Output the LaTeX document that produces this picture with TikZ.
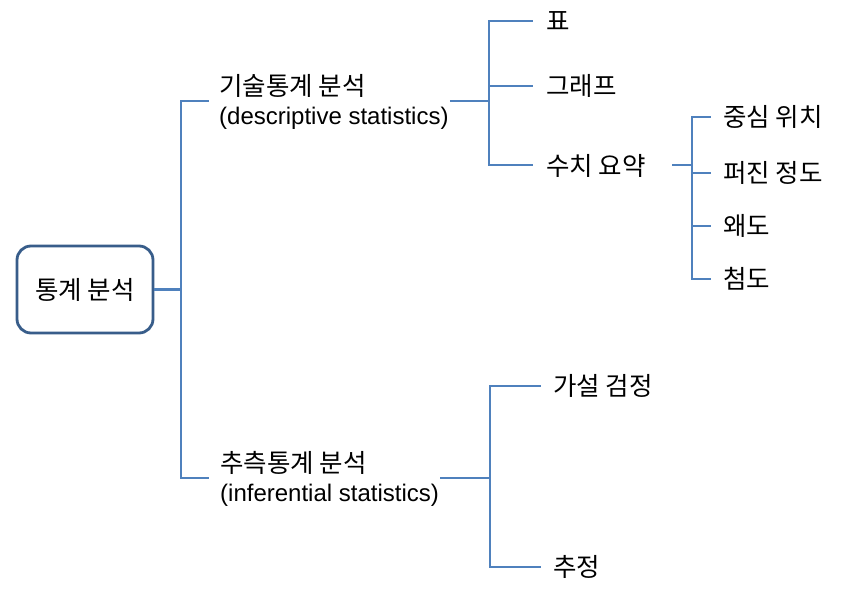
\documentclass[tikz,border=0pt]{standalone}
\usepackage{fontspec}
\setmainfont{Liberation Sans}
\newfontfamily\kr{Noto Sans CJK KR}
\definecolor{connc}{HTML}{4F81BD}
\definecolor{boxb}{HTML}{385D8A}
\begin{document}
\begin{tikzpicture}[x=1pt,y=-1pt,
 conn/.style={draw=connc,line width=2.5pt},
 lbl/.style={anchor=west,inner sep=0pt,font=\fontsize{25.5}{27}\selectfont\kr},
 two/.style={anchor=west,inner sep=0pt,align=left,font=\fontsize{24}{29}\selectfont}]
\fill[white] (0,0) rectangle (865,599);
\useasboundingbox (0,0) rectangle (865,599);
% root
\node[draw=boxb,line width=2.8pt,rounded corners=14pt,minimum width=136pt,minimum height=87pt,inner sep=0pt,font=\fontsize{25.5}{27}\selectfont\kr] (root) at (85,289.5) {통계 분석};
% level 1
\node[two] (desc) at (219,102) {{\fontsize{25.5}{29}\selectfont\kr 기술통계 분석}\\(descriptive statistics)};
\node[two] (inf) at (220,479) {{\fontsize{25.5}{29}\selectfont\kr 추측통계 분석}\\(inferential statistics)};
% level 2
\node[lbl] (pyo) at (546,21) {표};
\node[lbl] (graph) at (546,86) {그래프};
\node[lbl] (suchi) at (546,166) {수치 요약};
\node[lbl] (hyp) at (553,386) {가설 검정};
\node[lbl] (est) at (553,567) {추정};
% level 3
\node[lbl] (center) at (723,117) {중심 위치};
\node[lbl] (spread) at (723,173) {퍼진 정도};
\node[lbl] (skew) at (723,226) {왜도};
\node[lbl] (kurt) at (723,279) {첨도};
% junctions
\coordinate (j0) at (181,289.5);
\coordinate (j1) at (489,101);
\coordinate (s2) at (672,165);
\coordinate (j2) at (692,165);
\coordinate (j3) at (490,478);
\coordinate (d1) at (209,101);
\coordinate (i1) at (209,478);
\coordinate (q1) at (533,165);
% connectors
\draw[conn] (root.east) -- (j0);
\draw[conn] (j0) |- (d1);
\draw[conn] (j0) |- (i1);
\draw[conn] ([xshift=1pt]desc.east |- j1) -- (j1);
\draw[conn,shorten >=13pt] (j1) |- (pyo.west);
\draw[conn,shorten >=13pt] (j1) |- (graph.west);
\draw[conn] (j1) |- (q1);
\draw[conn] (s2) -- (j2);
\draw[conn,shorten >=12pt] (j2) |- (center.west);
\draw[conn,shorten >=12pt] (j2) |- (spread.west);
\draw[conn,shorten >=12pt] (j2) |- (skew.west);
\draw[conn,shorten >=12pt] (j2) |- (kurt.west);
\draw[conn] ([xshift=1pt]inf.east |- j3) -- (j3);
\draw[conn,shorten >=12pt] (j3) |- (hyp.west);
\draw[conn,shorten >=12pt] (j3) |- (est.west);
\end{tikzpicture}
\end{document}
